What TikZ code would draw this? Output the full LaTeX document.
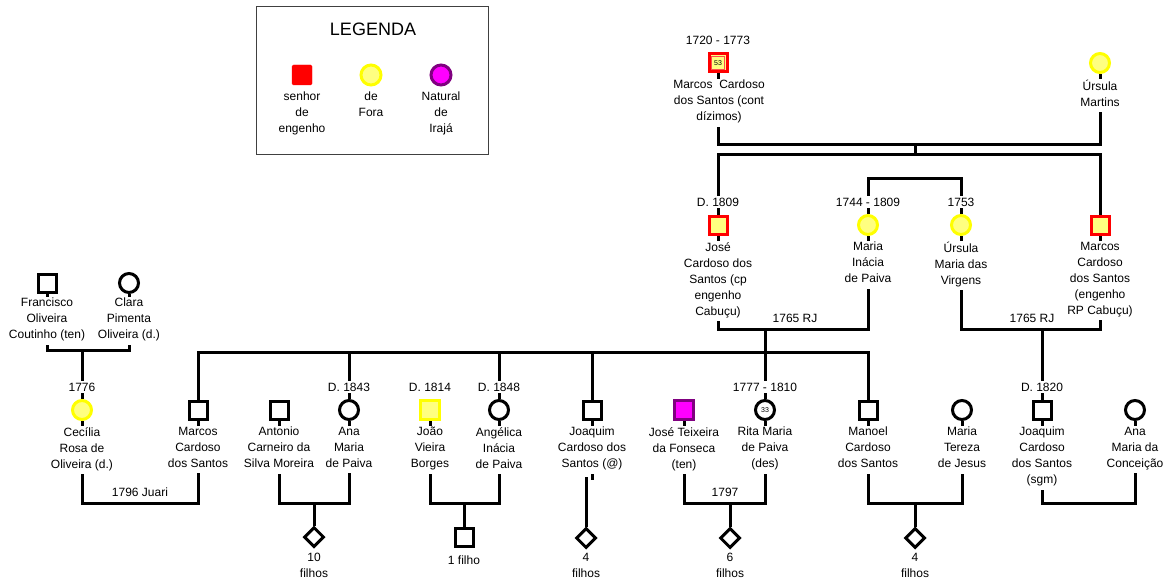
\documentclass[tikz,border=0pt]{standalone}
\usepackage{fontspec}
\setmainfont{Liberation Sans}
\usetikzlibrary{shapes.geometric,backgrounds}
\definecolor{lyellow}{HTML}{FFFF80}
\definecolor{byellow}{HTML}{FFFF00}
\definecolor{dpurple}{HTML}{800080}
\definecolor{mag}{HTML}{FF00FF}
\begin{document}
\begin{tikzpicture}[x=1pt,y=-1pt,
  every node/.style={font=\fontsize{12}{16}\selectfont},
  conn/.style={line width=3pt},
  sq/.style={rectangle, draw=black, line width=3pt, fill=white, minimum size=18pt, inner sep=0pt},
  ci/.style={circle, draw=black, line width=3pt, fill=white, minimum size=19pt, inner sep=0pt},
  engenho/.style={sq, draw=red, fill=lyellow},
  fora/.style={ci, draw=byellow, fill=lyellow},
  forasq/.style={sq, draw=byellow, fill=lyellow, line width=2.5pt, minimum size=19pt},
  iraja/.style={sq, draw=dpurple, fill=mag, line width=2.5pt, minimum size=19pt},
  dia/.style={diamond, draw=black, line width=3pt, fill=white, minimum width=20pt, minimum height=20pt, inner sep=0pt},
  lbl/.style={fill=white, inner sep=1pt, align=center, anchor=north, execute at begin node=\strut, execute at end node=\strut},
  dt/.style={fill=white, inner sep=1.5pt, anchor=base},
  small/.style={font=\fontsize{7}{8}\selectfont, text=black}
]
\useasboundingbox (0,0) rectangle (1169,580);

% ---------- legend ----------
\node[draw=black!75, line width=1.5pt, minimum width=232pt, minimum height=148pt, inner sep=0pt] (legend) at (372.5,80.5) {};
\node[font=\fontsize{18}{20}\selectfont] (legtitle) at (373,29) {LEGENDA};
\node[rectangle, fill=red, draw=red, rounded corners=1.5pt, minimum size=20pt, inner sep=0pt] (legeng) at (302,75) {};
\node[fora, minimum size=20pt] (legfora) at (371,75) {};
\node[ci, draw=dpurple, fill=mag, minimum size=20pt] (legira) at (441,75) {};
\node[lbl] (legengl) at (302,91) {senhor\\de\\engenho};
\node[lbl] (legforal) at (371,91) {de\\Fora};
\node[lbl] (legiral) at (441,91) {Natural\\de\\Irajá};

% ---------- top generation ----------
\node[engenho] (mcs) at (718,63) {};
\node[rectangle, draw=red!70, line width=0.4pt, minimum size=13pt, inner sep=0pt, small] (mcsin) at (718,63) {53};
\node[dt] (mcsd) at (718,45) {1720 - 1773};
\node[lbl] (mcsl) at (719,79) {Marcos\ \ Cardoso\\dos Santos (cont\\dízimos)};

\node[fora] (um) at (1100,63) {};
\node[lbl] (uml) at (1100,79) {Úrsula\\Martins};

% ---------- second generation ----------
\node[engenho] (jcs) at (718,225) {};
\node[dt] (jcsd) at (718,206) {D. 1809};
\node[lbl] (jcsl) at (718,241) {José\\Cardoso dos\\Santos (cp\\engenho\\Cabuçu)};

\node[fora] (mip) at (868,225) {};
\node[dt] (mipd) at (868,206) {1744 - 1809};
\node[lbl] (mipl) at (868,241) {Maria\\Inácia\\de Paiva};

\node[fora] (umv) at (961,225) {};
\node[dt] (umvd) at (961,206) {1753};
\node[lbl] (umvl) at (961,241) {Úrsula\\Maria das\\Virgens};

\node[engenho] (mcr) at (1100,225) {};
\node[lbl] (mcrl) at (1100,241) {Marcos\\Cardoso\\dos Santos\\(engenho\\RP Cabuçu)};

\node[dt] (m1l) at (795,322) {1765 RJ};
\node[dt] (m2l) at (1032,322) {1765 RJ};

% ---------- Oliveira parents ----------
\node[sq] (fco) at (47,283) {};
\node[lbl] (fcol) at (47,297) {Francisco\\Oliveira\\Coutinho (ten)};
\node[ci] (clara) at (129,283) {};
\node[lbl] (claral) at (129,297) {Clara\\Pimenta\\Oliveira (d.)};

% ---------- third generation ----------
\node[fora] (cec) at (82,410) {};
\node[dt] (cecd) at (82,391) {1776};
\node[lbl] (cecl) at (82,426) {Cecília\\Rosa de\\Oliveira (d.)};

\node[sq] (mcs2) at (198,410) {};
\node[lbl] (mcs2l) at (198,426) {Marcos\\Cardoso\\dos Santos};

\node[sq] (acsm) at (279,410) {};
\node[lbl] (acsml) at (279,426) {Antonio\\Carneiro da\\Silva Moreira};

\node[ci] (amp) at (349,410) {};
\node[dt] (ampd) at (349,391) {D. 1843};
\node[lbl] (ampl) at (349,426) {Ana\\Maria\\de Paiva};

\node[forasq] (jvb) at (430,410) {};
\node[dt] (jvbd) at (430,391) {D. 1814};
\node[lbl] (jvbl) at (430,426) {João\\Vieira\\Borges};

\node[ci] (aip) at (499,410) {};
\node[dt] (aipd) at (499,391) {D. 1848};
\node[lbl] (aipl) at (499,426) {Angélica\\Inácia\\de Paiva};

\node[sq] (jcsa) at (592,410) {};
\node[lbl] (jcsal) at (592,426) {Joaquim\\Cardoso dos\\Santos (@)};

\node[iraja] (jtf) at (684,410) {};
\node[lbl] (jtfl) at (684,426) {José Teixeira\\da Fonseca\\(ten)};

\node[ci, small] (rmp) at (765,410) {33};
\node[dt] (rmpd) at (765,391) {1777 - 1810};
\node[lbl] (rmpl) at (765,426) {Rita Maria\\de Paiva\\(des)};

\node[sq] (mcs3) at (868,410) {};
\node[lbl] (mcs3l) at (868,426) {Manoel\\Cardoso\\dos Santos};

\node[ci] (mtj) at (962,410) {};
\node[lbl] (mtjl) at (962,426) {Maria\\Tereza\\de Jesus};

\node[sq] (jcss) at (1042,410) {};
\node[dt] (jcssd) at (1042,391) {D. 1820};
\node[lbl] (jcssl) at (1042,426) {Joaquim\\Cardoso\\dos Santos\\(sgm)};

\node[ci] (amc) at (1135,410) {};
\node[lbl] (amcl) at (1135,426) {Ana\\Maria da\\Conceição};

\node[dt] (m3l) at (140,496) {1796 Juari};
\node[dt] (m6l) at (725,496) {1797};

% ---------- offspring ----------
\node[dia] (d1) at (314,537) {};
\node[lbl] (d1l) at (314,552) {10\\filhos};
\node[sq] (s1) at (464,537) {};
\node[lbl] (s1l) at (464,552) {1 filho};
\node[dia] (d2) at (586,538) {};
\node[lbl] (d2l) at (586,552) {4\\filhos};
\node[dia] (d3) at (730,538) {};
\node[lbl] (d3l) at (730,552) {6\\filhos};
\node[dia] (d4) at (915,538) {};
\node[lbl] (d4l) at (915,552) {4\\filhos};

% ---------- connectors ----------
\coordinate (b0) at (915,145);
\coordinate (c0) at (915,155);
\coordinate (s0) at (915,179);
\coordinate (m1) at (765,329);
\coordinate (m2) at (1042,329);
\coordinate (c1) at (765,352);
\coordinate (m0) at (82,350);
\coordinate (m3) at (140,503);
\coordinate (m4) at (314,503);
\coordinate (m5) at (464,503);
\coordinate (m6) at (730,503);
\coordinate (m7) at (915,503);
\coordinate (m8) at (1088,503);
\coordinate (jq1) at (592,480);
\coordinate (jq2) at (586,477);

\begin{scope}[on background layer]
\draw[conn] (mcs) |- (b0) -| (um);
\draw[conn] (b0) -- (c0);
\draw[conn] (jcs) |- (c0) -| (mcr);
\draw[conn] (mip) |- (s0) -| (umv);
\draw[conn] (jcs) |- (m1) -| (mip);
\draw[conn] (m1) -- (rmp);
\draw[conn] (umv) |- (m2) -| (mcr);
\draw[conn] (m2) -- (jcss);
\draw[conn] (mcs2) |- (c1) -| (mcs3);
\draw[conn] (amp) -- (amp |- c1);
\draw[conn] (aip) -- (aip |- c1);
\draw[conn] (jcsa) -- (jcsa |- c1);
\draw[conn] (fco) |- (m0) -| (clara);
\draw[conn] (m0) -- (cec);
\draw[conn] (cec) |- (m3) -| (mcs2);
\draw[conn] (acsm) |- (m4) -| (amp);
\draw[conn] (m4) -- (d1);
\draw[conn] (jvb) |- (m5) -| (aip);
\draw[conn] (m5) -- (s1);
\draw[conn] (jcsa) -- (jq1);
\draw[conn] (jq2) -- (d2);
\draw[conn] (jtf) |- (m6) -| (rmp);
\draw[conn] (m6) -- (d3);
\draw[conn] (mcs3) |- (m7) -| (mtj);
\draw[conn] (m7) -- (d4);
\draw[conn] (jcss) |- (m8) -| (amc);
\end{scope}
\end{tikzpicture}
\end{document}
